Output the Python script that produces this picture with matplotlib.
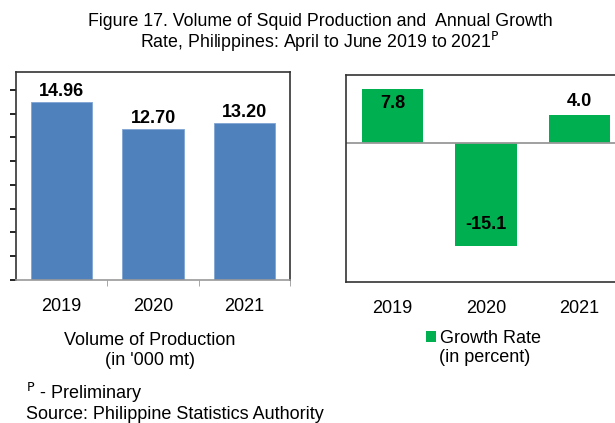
import matplotlib
matplotlib.use("Agg")
import matplotlib.pyplot as plt
import numpy as np

plt.rcParams["font.family"] = ["Liberation Sans", "DejaVu Sans"]

YEARS = ["2019", "2020", "2021"]
VOLUME = [14.96, 12.70, 13.20]
GROWTH = [7.8, -15.1, 4.0]

BLUE = "#4F81BD"
GREEN = "#00B050"
W, H = 615, 423
FS = 13

fig = plt.figure(figsize=(W / 100, H / 100), dpi=100)

fig.text(320 / W, 1 - 22 / H, "Figure 17. Volume of Squid Production and  Annual Growth",
         ha="center", va="center", fontsize=12.8)
fig.text(320 / W, 1 - 42 / H, "Rate, Philippines: April to June 2019 to 2021$^{\\mathrm{P}}$",
         ha="center", va="center", fontsize=12.8)

# left panel: volume
ax1 = fig.add_axes([16 / W, 1 - 280 / H, 274 / W, 208 / H])
x = np.arange(len(YEARS))
ax1.bar(x, VOLUME, width=0.67, color=BLUE, edgecolor="#7FA4D3", linewidth=0.6)
ax1.set_xlim(-0.5, 2.5)
ax1.set_ylim(0, 17.5)
ax1.set_yticks(np.arange(0, 17, 2))
ax1.set_yticklabels([])
ax1.tick_params(axis="y", direction="out", length=4, width=1.2, color="black")
ax1.set_xticks(x)
ax1.set_xticklabels(YEARS, fontsize=FS)
ax1.tick_params(axis="x", length=0, pad=13)
ax1.set_xticks([0.5, 1.5, 2.5], minor=True)
ax1.tick_params(axis="x", which="minor", length=4, color="#999999")
for s in ["top", "left", "right"]:
    ax1.spines[s].set_color("#333333")
    ax1.spines[s].set_linewidth(1.2)
ax1.spines["bottom"].set_color("#999999")
ax1.spines["bottom"].set_linewidth(1.2)
for xi, v in zip(x, VOLUME):
    ax1.text(xi, v + 0.2, f"{v:.2f}", ha="center", va="bottom",
             fontsize=FS, fontweight="bold")

fig.text(150 / W, 1 - 340 / H, "Volume of Production", ha="center", va="center", fontsize=FS)
fig.text(150 / W, 1 - 360 / H, "(in '000 mt)", ha="center", va="center", fontsize=FS)

# right panel: growth rate
ax2 = fig.add_axes([346 / W, 1 - 282 / H, 280 / W, 207 / H])
bars = ax2.bar(x, GROWTH, width=0.66, color=GREEN, label="Growth Rate")
ax2.set_xlim(-0.5, 2.5)
ax2.set_ylim(-20.3, 9.9)
ax2.axhline(0, color="#999999", linewidth=1.3)
ax2.set_yticks([])
ax2.set_xticks(x)
ax2.set_xticklabels(YEARS, fontsize=FS)
ax2.tick_params(axis="x", length=0, pad=13)
for s in ax2.spines.values():
    s.set_color("#333333")
    s.set_linewidth(1.2)
for xi, v in zip(x, GROWTH):
    if v == max(GROWTH):
        ax2.text(xi, v - 2.0, f"{v:.1f}", ha="center", va="center", fontsize=FS, fontweight="bold")
    elif v < 0:
        ax2.text(xi, v + 3.2, f"{v:.1f}", ha="center", va="center", fontsize=FS, fontweight="bold")
    else:
        ax2.text(xi, v + 2.1, f"{v:.1f}", ha="center", va="center", fontsize=FS, fontweight="bold")

fig.legend(handles=[bars], labels=["Growth Rate"], loc="center left",
           bbox_to_anchor=(417 / W, 1 - 338 / H), frameon=False, fontsize=FS,
           handlelength=0.55, handleheight=0.55, handletextpad=0.25, borderpad=0)
fig.text(485 / W, 1 - 357 / H, "(in percent)", ha="center", va="center", fontsize=FS)

fig.text(26 / W, 1 - 393 / H, "$^{\\mathrm{P}}$ - Preliminary", ha="left", va="center", fontsize=FS)
fig.text(26 / W, 1 - 414 / H, "Source: Philippine Statistics Authority", ha="left", va="center", fontsize=FS)

fig.savefig("out.png", dpi=100)
